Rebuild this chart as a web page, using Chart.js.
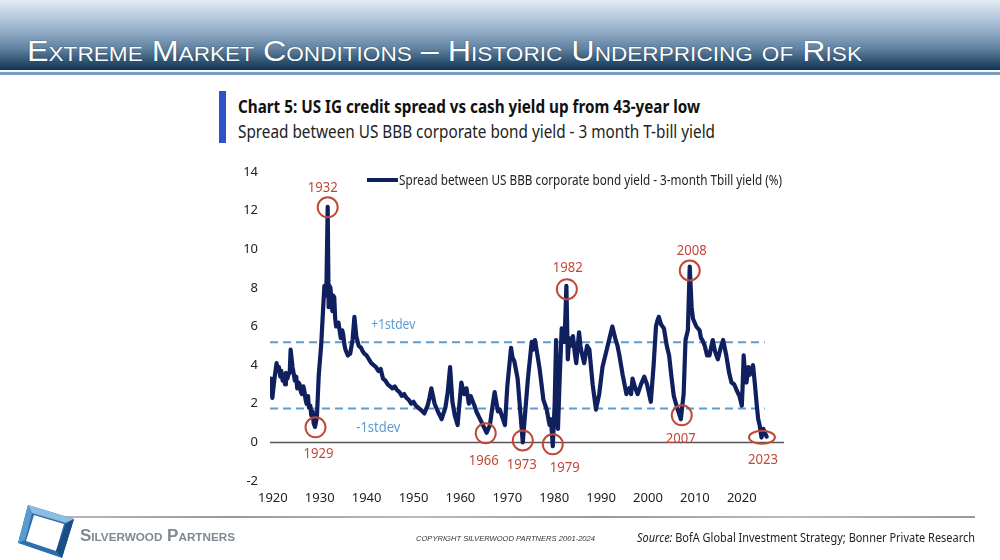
<!DOCTYPE html>
<html><head><meta charset="utf-8">
<script src="https://cdn.jsdelivr.net/npm/chart.js@4.4.1/dist/chart.umd.min.js"></script>
<style>
html,body{margin:0;padding:0;width:1000px;height:560px;overflow:hidden;background:#fff;}
.abs{position:absolute;white-space:nowrap;transform-origin:0 0;}
#bar{position:absolute;left:0;top:0;width:1000px;height:70px;background:linear-gradient(#e4ebf3 0%,#bccde0 22%,#94adc9 45%,#5f809f 70%,#0f3352 100%);}
#bar2{position:absolute;left:0;top:70px;width:1000px;height:2px;background:#f4f7fa;}
#bar3{position:absolute;left:0;top:72px;width:1000px;height:3px;background:#7d9dc0;}
#title{left:27px;top:34px;color:#fff;font-family:"Liberation Sans Narrow","Liberation Sans",Arial,sans-serif;font-size:30px;font-variant:small-caps;text-shadow:0 0 1px #0a2a44;}
#cbar{position:absolute;left:219px;top:91px;width:7px;height:52px;background:#2f52c6;}
#ctitle{left:238px;top:94px;font-family:"Noto Sans",sans-serif;font-weight:bold;font-size:18px;color:#111;}
#csub{left:238px;top:119px;font-family:"Noto Sans",sans-serif;font-size:18px;color:#222;}
#fline{position:absolute;left:45px;top:516px;width:930px;height:2px;background:linear-gradient(90deg,#bbb,#999 20%,#bbb 40%,#999 60%,#bbb 80%,#999);}
#brand{left:80px;top:527px;font-family:"Liberation Sans",Arial,sans-serif;font-weight:bold;font-size:16px;font-variant:small-caps;color:#7f8893;}
#copy{left:416px;top:534px;font-family:"Liberation Sans",Arial,sans-serif;font-style:italic;font-size:8px;color:#333;}
#src{left:637px;top:528px;font-family:"Noto Sans",sans-serif;font-size:13px;color:#222;}
canvas{position:absolute;left:0;top:0;}
</style></head>
<body>
<div id="bar"></div><div id="bar2"></div><div id="bar3"></div>
<div class="abs" id="title">Extreme Market Conditions – Historic Underpricing of Risk</div>
<div id="cbar"></div>
<div class="abs" id="ctitle">Chart 5: US IG credit spread vs cash yield up from 43-year low</div>
<div class="abs" id="csub">Spread between US BBB corporate bond yield - 3 month T-bill yield</div>
<canvas id="c" width="1000" height="560"></canvas>
<div id="fline"></div>
<svg style="position:absolute;left:14px;top:503px" width="64" height="57" viewBox="0 0 64 57">
  <polygon points="14,2 60,16 48,55 4,40" fill="#2b6fae"/>
  <polygon points="14,2 60,16 52,20 18,10" fill="#8dbde3"/>
  <polygon points="4,40 14,2 18,10 11,37" fill="#5b9bd0"/>
  <polygon points="20,12 50,21 42,48 12,38" fill="#ffffff"/>
  <polygon points="48,55 60,16 52,20 42,48" fill="#1a4f86"/>
</svg>
<div class="abs" id="brand">Silverwood Partners</div>
<div class="abs" id="copy">COPYRIGHT SILVERWOOD PARTNERS 2001-2024</div>
<div class="abs" id="src"><i>Source:</i> BofA Global Investment Strategy; Bonner Private Research</div>
<script>
// ---- data ----
const years = [1919.6,1919.9,1920.3,1920.8,1921.1,1921.3,1921.6,1921.8,1922.1,1922.3,1922.6,1922.8,1923.1,1923.3,1923.6,1923.8,1924.2,1924.5,1924.7,1925.0,1925.2,1925.5,1925.7,1926.0,1926.2,1926.5,1926.7,1927.0,1927.2,1927.5,1927.7,1928.0,1928.2,1928.5,1928.7,1929.0,1929.4,1929.8,1930.3,1930.7,1931.0,1931.4,1931.7,1931.9,1932.1,1932.3,1932.5,1932.7,1932.9,1933.1,1933.3,1933.5,1934.0,1934.3,1934.5,1934.8,1935.0,1935.3,1935.5,1936.0,1936.5,1937.0,1937.4,1937.8,1938.3,1938.8,1939.2,1939.5,1940.0,1940.5,1941.0,1941.5,1942.0,1942.5,1943.0,1943.5,1944.0,1944.5,1945.0,1945.5,1946.0,1946.5,1947.0,1947.5,1948.0,1948.5,1949.0,1949.5,1950.0,1950.5,1951.0,1951.5,1952.3,1953.0,1953.4,1953.8,1954.5,1955.2,1956.0,1956.8,1957.3,1957.8,1958.3,1958.8,1959.4,1960.2,1960.8,1961.3,1961.8,1962.2,1962.5,1963.0,1963.4,1964.2,1964.8,1965.6,1966.3,1966.8,1967.3,1968.0,1968.4,1968.8,1969.5,1970.0,1970.8,1971.1,1971.5,1972.2,1972.8,1973.3,1973.8,1974.4,1975.2,1975.5,1975.9,1976.5,1976.9,1977.7,1978.4,1979.0,1979.3,1979.7,1980.1,1980.4,1980.8,1981.2,1981.6,1982.2,1982.6,1982.9,1983.2,1983.5,1984.0,1984.4,1984.7,1985.3,1985.6,1985.9,1986.4,1987.0,1987.5,1988.2,1988.9,1989.6,1990.3,1991.3,1992.4,1993.0,1993.5,1993.9,1994.6,1995.4,1996.0,1996.4,1996.7,1997.3,1997.8,1998.5,1999.2,1999.8,2000.6,2001.2,2001.7,2002.0,2002.3,2002.8,2003.4,2004.0,2004.5,2005.0,2005.5,2006.2,2007.0,2007.6,2008.0,2008.5,2008.9,2009.3,2009.6,2010.3,2011.0,2011.3,2011.6,2012.1,2012.6,2013.1,2013.8,2014.3,2014.9,2015.5,2016.0,2016.7,2017.3,2017.8,2018.4,2018.9,2019.5,2020.0,2020.2,2020.4,2020.7,2021.0,2021.4,2021.7,2022.1,2022.4,2022.8,2023.2,2023.5,2023.8,2024.2,2024.6,2024.9,2025.3];
const spread = [3.3,2.3,3.2,4.1,3.7,3.9,3.4,3.7,3.2,3.5,3.0,3.6,3.3,3.5,3.6,4.8,3.9,3.5,3.2,3.4,2.8,3.1,3.0,2.6,2.5,2.9,2.7,2.2,2.0,2.4,1.8,1.9,1.4,1.6,1.0,0.8,1.3,3.5,5.0,6.8,8.1,7.6,12.2,7.0,8.1,8.0,7.2,6.8,7.6,7.5,6.4,6.0,6.2,5.7,5.4,5.8,5.6,5.0,4.8,4.5,4.6,5.3,6.5,5.5,5.0,4.9,4.7,4.6,4.5,4.3,4.1,4.0,3.9,3.7,3.8,3.3,3.2,3.0,2.9,2.8,2.9,2.7,2.6,2.4,2.5,2.3,2.2,2.0,2.1,1.9,1.8,1.7,1.5,1.9,2.3,2.8,2.0,1.6,1.2,1.8,2.6,3.9,2.1,1.4,0.9,3.1,2.5,2.8,2.0,2.4,2.2,1.9,1.6,1.2,0.9,0.5,0.9,1.8,2.6,1.6,1.7,1.4,0.9,2.9,4.9,4.4,4.2,3.3,1.5,0.0,1.5,3.3,5.2,4.8,5.3,4.4,3.8,2.2,1.7,0.9,1.2,-0.2,2.0,5.3,0.7,3.5,5.9,5.2,8.1,4.3,5.4,5.0,5.5,4.6,4.1,5.7,5.0,4.6,4.1,5.0,4.8,3.0,1.7,2.5,3.9,4.9,6.0,5.4,5.0,4.5,3.5,2.5,2.8,2.5,3.3,2.8,2.5,3.0,3.4,3.0,2.1,4.0,6.0,6.3,6.5,6.1,5.9,5.0,4.5,3.4,2.4,1.8,1.2,2.5,5.3,5.8,9.1,7.0,6.4,6.0,5.8,5.4,5.3,5.0,4.5,4.5,5.3,4.7,4.3,4.9,5.3,4.5,3.6,3.1,3.0,2.7,2.4,1.9,3.0,4.5,3.5,3.1,3.9,3.5,3.8,4.0,3.0,1.9,1.2,0.9,0.25,0.7,0.5,0.3];
const xTickLabels = [1920,1930,1940,1950,1960,1970,1980,1990,2000,2010,2020];
const yTickLabels = [-2,0,2,4,6,8,10,12,14];
const stdevPlus = 5.18;
const stdevMinus = 1.76;
const stdevSpan = [1919.4, 2024.9];
const xRange = [1919.4, 2029];
const annLabels = ['1932','1929','1966','1973','1979','1982','2007','2008','2023'];
const annYears  = [1931.7,1929.1,1965.4,1973.3,1979.7,1982.7,2007.2,2008.9,2024.3];
const annValues = [12.17,0.78,0.47,0.1,-0.1,7.93,1.4,8.9,0.26];
const seriesName = 'Spread between US BBB corporate bond yield - 3-month Tbill yield (%)';

// ---- styles ----
const NAVY = '#101f5e', RED = '#c0483a', LBLUE = '#5d9bd3';
const annDx = [-5,3,-2,-1,12,1,-1,2,1];
const annDy = [-20,26,27,24,23,-21,23,-20,22];
const annRx = [10,10,10,10,10,10,10,10,13];
const annRy = [10,10,10,10,10,10,10,10,6.5];

function fitW(id,w){const el=document.getElementById(id);const r=el.getBoundingClientRect().width;el.style.transform='scaleX('+(w/r)+')';}
fitW('title',835); fitW('ctitle',462); fitW('csub',477); fitW('brand',155); fitW('copy',179); fitW('src',338);

function fitText(ctx,text,x,y,w){const m=ctx.measureText(text).width;ctx.save();ctx.translate(x,y);ctx.scale(w/m,1);ctx.fillText(text,0,0);ctx.restore();}

const annotate = {
  id:'annotate',
  afterDatasetsDraw(chart){
    const {ctx, scales:{x,y}, chartArea:ca} = chart;
    ctx.save();
    ctx.fillStyle = LBLUE; ctx.font = '15px "Noto Sans"'; ctx.textBaseline='middle'; ctx.textAlign='left';
    fitText(ctx,'+1stdev', x.getPixelForValue(1941.0), y.getPixelForValue(stdevPlus)-18, 44);
    fitText(ctx,'-1stdev', x.getPixelForValue(1937.8), y.getPixelForValue(stdevMinus)+19, 44);
    ctx.lineWidth = 2; ctx.strokeStyle = RED; ctx.fillStyle = RED;
    ctx.font = '15px "Noto Sans"';
    for(let i=0;i<annLabels.length;i++){
      const px=x.getPixelForValue(annYears[i]), py=y.getPixelForValue(annValues[i]);
      ctx.beginPath(); ctx.ellipse(px,py,annRx[i],annRy[i],0,0,Math.PI*2); ctx.stroke();
      fitText(ctx,annLabels[i],px+annDx[i]-15,py+annDy[i],30);
    }
    const lx = ca.left+97, ly = ca.top+8;
    ctx.strokeStyle = NAVY; ctx.lineWidth = 4; ctx.beginPath(); ctx.moveTo(lx,ly); ctx.lineTo(lx+31,ly); ctx.stroke();
    ctx.fillStyle = '#222'; ctx.font = '14px "Noto Sans"';
    fitText(ctx, seriesName, lx+32, ly+1, 383);
    ctx.restore();
  }
};

const pts = years.map((yr,i)=>({x:yr,y:spread[i]}));
new Chart(document.getElementById('c'),{
  type:'line',
  data:{datasets:[
    {label:seriesName,data:pts,borderColor:NAVY,borderWidth:4.2,pointRadius:0,tension:0,borderJoinStyle:'round',borderCapStyle:'round'},
    {label:'+1stdev',data:stdevSpan.map(v=>({x:v,y:stdevPlus})),borderColor:LBLUE,borderWidth:2,borderDash:[8,5],pointRadius:0},
    {label:'-1stdev',data:stdevSpan.map(v=>({x:v,y:stdevMinus})),borderColor:LBLUE,borderWidth:2,borderDash:[8,5],pointRadius:0},
    {label:'zero',data:xRange.map(v=>({x:v,y:0})),borderColor:'#555',borderWidth:1.5,pointRadius:0}
  ]},
  options:{
    responsive:false, animation:false, devicePixelRatio:1,
    layout:{padding:{left:0,top:172,right:216,bottom:50}},
    plugins:{legend:{display:false},tooltip:{enabled:false}},
    scales:{
      x:{type:'linear',min:xRange[0],max:xRange[1],
         grid:{display:false,drawTicks:false},border:{display:false},
         afterBuildTicks:s=>{s.ticks=xTickLabels.map(v=>({value:v}));},
         afterFit:s=>{s.height=29;},
         ticks:{padding:9,color:'#222',font:{family:'"Noto Sans"',size:13},callback:v=>String(v),maxRotation:0,autoSkip:false}},
      y:{min:-2,max:14,
         grid:{display:false,drawTicks:false},border:{display:false},
         afterBuildTicks:s=>{s.ticks=yTickLabels.map(v=>({value:v}));},
         afterFit:s=>{s.width=270;},
         ticks:{padding:12,color:'#222',font:{family:'"Noto Sans"',size:13},callback:v=>String(v)}}
    }
  },
  plugins:[annotate]
});
</script>
</body></html>
